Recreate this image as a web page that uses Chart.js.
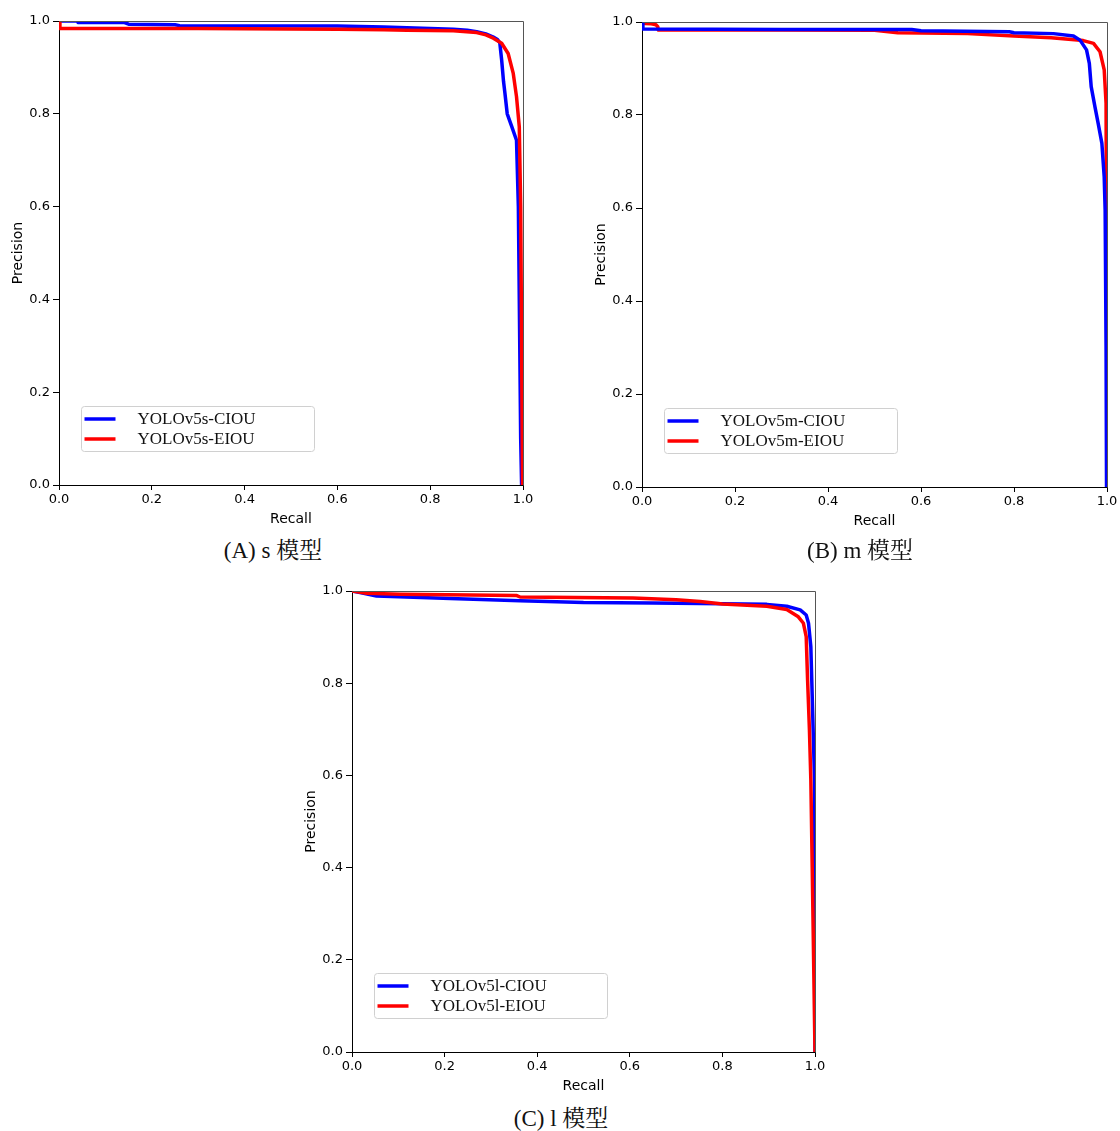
<!DOCTYPE html>
<html>
<head>
<meta charset="utf-8">
<script src="https://cdn.jsdelivr.net/npm/chart.js@4.4.1/dist/chart.umd.min.js"></script>
<style>
  html, body { margin: 0; padding: 0; background: #fff; }
  body { width: 1120px; height: 1131px; position: relative; overflow: hidden; }
  canvas { position: absolute; }
  .cap { position: absolute; transform: translate(-50%, -50%); white-space: nowrap;
         font: 23px "Liberation Serif", "Noto Serif CJK SC", "Noto Sans CJK SC", serif; color: #111; }
</style>
</head>
<body>
<canvas id="cA" width="540" height="530" style="left:0px; top:0px;"></canvas>
<canvas id="cB" width="537" height="531" style="left:583px; top:1px;"></canvas>
<canvas id="cC" width="540" height="527" style="left:293px; top:570px;"></canvas>
<div class="cap" style="left:273px; top:548px;">(A) s 模型</div>
<div class="cap" style="left:860px; top:548px;">(B) m 模型</div>
<div class="cap" style="left:561px; top:1116px;">(C) l 模型</div>
<script>
// ---------- data ----------
const tickValues = [0.0, 0.2, 0.4, 0.6, 0.8, 1.0];
const xAxisTitle = "Recall";
const yAxisTitle = "Precision";

// (A) s model
const sLabels = ["YOLOv5s-CIOU", "YOLOv5s-EIOU"];
const sCiouRecall    = [0, 0.04, 0.041, 0.14, 0.15, 0.25, 0.26, 0.6, 0.7, 0.8, 0.85, 0.88, 0.9, 0.92, 0.935, 0.945, 0.95, 0.954, 0.958, 0.961, 0.966, 0.976, 0.986, 0.99, 0.993, 0.995, 0.997];
const sCiouPrecision = [1.0, 1.0, 0.997, 0.997, 0.993, 0.992, 0.99, 0.989, 0.987, 0.984, 0.982, 0.98, 0.977, 0.972, 0.966, 0.96, 0.953, 0.916, 0.87, 0.845, 0.80, 0.772, 0.743, 0.6, 0.3, 0.1, 0];
const sEiouRecall    = [0, 0.002, 0.3, 0.5, 0.6, 0.7, 0.75, 0.85, 0.9, 0.92, 0.936, 0.954, 0.968, 0.979, 0.986, 0.992, 0.995, 0.997, 0.999];
const sEiouPrecision = [1.0, 0.984, 0.984, 0.983, 0.982, 0.981, 0.98, 0.979, 0.975, 0.97, 0.963, 0.952, 0.930, 0.887, 0.837, 0.772, 0.6, 0.3, 0];

// (B) m model
const mLabels = ["YOLOv5m-CIOU", "YOLOv5m-EIOU"];
const mCiouRecall    = [0, 0.002, 0.3, 0.58, 0.6, 0.79, 0.8, 0.885, 0.928, 0.942, 0.956, 0.962, 0.966, 0.974, 0.981, 0.989, 0.994, 0.996, 0.998, 0.999];
const mCiouPrecision = [1.0, 0.985, 0.984, 0.984, 0.981, 0.979, 0.977, 0.975, 0.970, 0.961, 0.940, 0.911, 0.861, 0.818, 0.782, 0.739, 0.667, 0.596, 0.3, 0];
const mEiouRecall    = [0, 0.006, 0.02, 0.03, 0.034, 0.035, 0.3, 0.5, 0.55, 0.7, 0.8, 0.88, 0.93, 0.949, 0.971, 0.985, 0.994, 0.998, 0.999, 1.0];
const mEiouPrecision = [1.0, 0.997, 0.996, 0.994, 0.99, 0.983, 0.983, 0.982, 0.977, 0.975, 0.970, 0.966, 0.962, 0.960, 0.954, 0.936, 0.897, 0.825, 0.5, 0];

// (C) l model
const lLabels = ["YOLOv5l-CIOU", "YOLOv5l-EIOU"];
const lCiouRecall    = [0, 0.02, 0.053, 0.212, 0.363, 0.5, 0.65, 0.752, 0.896, 0.939, 0.968, 0.981, 0.986, 0.991, 0.995, 0.999, 1.0];
const lCiouPrecision = [1.0, 0.996, 0.989, 0.984, 0.979, 0.975, 0.974, 0.973, 0.971, 0.967, 0.959, 0.948, 0.930, 0.879, 0.735, 0.59, 0];
const lEiouRecall    = [0, 0.032, 0.104, 0.356, 0.363, 0.607, 0.7, 0.752, 0.8, 0.896, 0.939, 0.964, 0.975, 0.981, 0.984, 0.988, 0.991, 0.994, 0.997, 1.0];
const lEiouPrecision = [1.0, 0.995, 0.993, 0.990, 0.987, 0.985, 0.981, 0.977, 0.972, 0.967, 0.960, 0.944, 0.93, 0.901, 0.807, 0.698, 0.59, 0.4, 0.2, 0];

const seriesColors = ["#0000ff", "#ff0000"];

// ---------- helpers ----------
function pairs(xs, ys) { return xs.map((x, i) => ({ x: x, y: ys[i] })); }

const framePlugin = {
  id: 'frame',
  afterDatasetsDraw(chart) {
    const { ctx, chartArea: a } = chart;
    ctx.save();
    ctx.strokeStyle = '#555';
    ctx.lineWidth = 1;
    ctx.beginPath();
    ctx.moveTo(Math.round(a.left) + 0.5, Math.round(a.top) + 0.5);
    ctx.lineTo(Math.round(a.right) + 0.5, Math.round(a.top) + 0.5);
    ctx.lineTo(Math.round(a.right) + 0.5, Math.round(a.bottom) + 0.5);
    ctx.stroke();
    ctx.restore();
  }
};

const innerLegend = {
  id: 'innerLegend',
  afterDraw(chart) {
    const { ctx, chartArea: a } = chart;
    const w = 233, h = 45;
    const x = a.left + 22.5, y = a.bottom - 33.5 - h;
    ctx.save();
    ctx.fillStyle = 'rgba(255,255,255,0.85)';
    ctx.strokeStyle = '#d0d0d0';
    ctx.lineWidth = 1;
    ctx.beginPath();
    if (ctx.roundRect) ctx.roundRect(x, y, w, h, 3); else ctx.rect(x, y, w, h);
    ctx.fill();
    ctx.stroke();
    chart.data.datasets.forEach((ds, i) => {
      const ly = y + 12.5 + i * 20;
      ctx.strokeStyle = ds.borderColor;
      ctx.lineWidth = 3.5;
      ctx.beginPath();
      ctx.moveTo(x + 3, ly);
      ctx.lineTo(x + 34, ly);
      ctx.stroke();
      ctx.fillStyle = '#111';
      ctx.font = '17px "Liberation Serif", "Times New Roman", serif';
      ctx.textBaseline = 'middle';
      ctx.textAlign = 'left';
      ctx.fillText(ds.label, x + 56, ly + 1);
    });
    ctx.restore();
  }
};

function makeChart(id, labels, rc, pc, re, pe, rightPad, blueOnTop) {
  const tickFont = { family: '"DejaVu Sans", sans-serif', size: 13 };
  const titleFont = { family: '"DejaVu Sans", sans-serif', size: 14 };
  return new Chart(document.getElementById(id), {
    type: 'line',
    data: {
      datasets: [
        { label: labels[0], data: pairs(rc, pc), borderColor: seriesColors[0], backgroundColor: seriesColors[0],
          borderWidth: 3.5, pointRadius: 0, tension: 0, fill: false, order: blueOnTop ? 1 : 2,
          borderJoinStyle: 'round', borderCapStyle: 'butt' },
        { label: labels[1], data: pairs(re, pe), borderColor: seriesColors[1], backgroundColor: seriesColors[1],
          borderWidth: 3.5, pointRadius: 0, tension: 0, fill: false, order: blueOnTop ? 2 : 1,
          borderJoinStyle: 'round', borderCapStyle: 'butt' }
      ]
    },
    options: {
      responsive: false,
      animation: false,
      events: [],
      layout: { padding: { left: 0, top: 21, right: rightPad, bottom: 0 } },
      plugins: { legend: { display: false }, tooltip: { enabled: false }, title: { display: false } },
      scales: {
        x: {
          type: 'linear', min: 0, max: 1,
          afterBuildTicks(s) { s.ticks = tickValues.map(v => ({ value: v })); },
          afterFit(s) { s.height = 45; },
          ticks: { callback: v => Number(v).toFixed(1), color: '#000', font: tickFont, padding: 2, maxRotation: 0, autoSkip: false },
          grid: { display: true, drawOnChartArea: false, drawTicks: true, tickLength: 5, color: '#000' },
          border: { display: true, color: '#000', width: 1 },
          title: { display: true, text: xAxisTitle, color: '#000', font: titleFont, padding: { top: 2, bottom: 2 } }
        },
        y: {
          type: 'linear', min: 0, max: 1,
          afterBuildTicks(s) { s.ticks = tickValues.map(v => ({ value: v })); },
          afterFit(s) { s.width = 59; },
          ticks: { callback: v => Number(v).toFixed(1), color: '#000', font: tickFont, padding: 3, autoSkip: false },
          grid: { display: true, drawOnChartArea: false, drawTicks: true, tickLength: 6, color: '#000' },
          border: { display: true, color: '#000', width: 1 },
          title: { display: true, text: yAxisTitle, color: '#000', font: titleFont, padding: { top: 10, bottom: 4 } }
        }
      }
    },
    plugins: [framePlugin, innerLegend]
  });
}

makeChart('cA', sLabels, sCiouRecall, sCiouPrecision, sEiouRecall, sEiouPrecision, 17, false);
makeChart('cB', mLabels, mCiouRecall, mCiouPrecision, mEiouRecall, mEiouPrecision, 13, true);
makeChart('cC', lLabels, lCiouRecall, lCiouPrecision, lEiouRecall, lEiouPrecision, 18, false);
</script>
</body>
</html>
